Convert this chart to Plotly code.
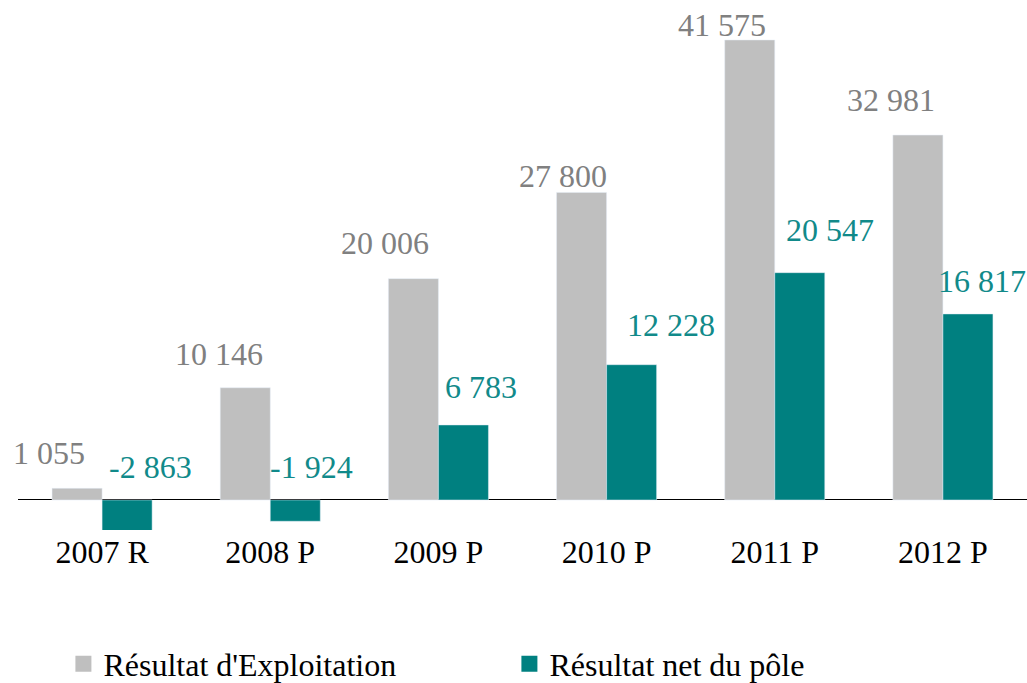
import plotly.graph_objects as go

categories = ["2007 R", "2008 P", "2009 P", "2010 P", "2011 P", "2012 P"]
resultat_exploitation = [1055, 10146, 20006, 27800, 41575, 32981]
resultat_net = [-2863, -1924, 6783, 12228, 20547, 16817]
labels_exploitation = ["1 055", "10 146", "20 006", "27 800", "41 575", "32 981"]
labels_net = ["-2 863", "-1 924", "6 783", "12 228", "20 547", "16 817"]

# label placement styles (pixel offsets from bar centre / top)
expl_dx = [-28, -26, -28, -19, -28, -27]
expl_dy = [35, 34, 36, 16, 15, 35]
net_dx = [23, 16, 18, 39, 30, 14]
net_dy = [33, 33, 38, 40, 43, 33]

GRAY = "#BFBFBF"
TEAL = "#008080"
GRAY_TXT = "#808080"
TEAL_TXT = "#118A8A"
FONT = "'Liberation Serif', 'Times New Roman', Times, 'DejaVu Serif', serif"
FS = 32

fig = go.Figure()
fig.add_trace(go.Bar(x=categories, y=resultat_exploitation, marker_color=GRAY,
                     showlegend=False, name="Résultat d'Exploitation", cliponaxis=False))
fig.add_trace(go.Bar(x=categories, y=resultat_net, marker_color=TEAL,
                     showlegend=False, name="Résultat net du pôle", cliponaxis=False))
# legend entries with larger square swatches
fig.add_trace(go.Scatter(x=[categories[0]], y=[None], mode="markers", name="Résultat d'Exploitation",
                         marker=dict(symbol="square", size=22, color=GRAY)))
fig.add_trace(go.Scatter(x=[categories[0]], y=[None], mode="markers", name="Résultat net du pôle",
                         marker=dict(symbol="square", size=22, color=TEAL)))

annotations = []
half = 25
for i, c in enumerate(categories):
    v = resultat_exploitation[i]
    annotations.append(dict(x=c, y=max(v, 0), xref="x", yref="y", text=labels_exploitation[i],
                            showarrow=False, xanchor="center", yanchor="middle",
                            xshift=-half + expl_dx[i], yshift=expl_dy[i],
                            font=dict(family=FONT, size=FS, color=GRAY_TXT)))
    v = resultat_net[i]
    annotations.append(dict(x=c, y=max(v, 0), xref="x", yref="y", text=labels_net[i],
                            showarrow=False, xanchor="center", yanchor="middle",
                            xshift=half + net_dx[i], yshift=net_dy[i],
                            font=dict(family=FONT, size=FS, color=TEAL_TXT)))

fig.update_layout(
    width=1027, height=683,
    margin=dict(l=18, r=0, t=10, b=153, autoexpand=False),
    plot_bgcolor="white", paper_bgcolor="white",
    barmode="group", bargap=0.405, bargroupgap=0,
    font=dict(family=FONT, size=FS, color="black"),
    annotations=annotations,
    legend=dict(orientation="h", x=0.045, xanchor="left", y=-0.2577, yanchor="middle",
                entrywidth=401, entrywidthmode="pixels",
                font=dict(family=FONT, size=FS, color="black"),
                itemsizing="trace"),
    xaxis=dict(range=[-0.5, 5.5], autorange=False, showline=False, ticks="", showgrid=False,
               tickfont=dict(family=FONT, size=FS, color="black")),
    yaxis=dict(range=[-2712, 44287], autorange=False, showgrid=False, showticklabels=False, ticks="",
               zeroline=True, zerolinecolor="black", zerolinewidth=1, showline=False),
)

fig.write_html("out.html", config={"displayModeBar": False},
               post_script="document.body.style.margin='0';document.body.style.overflow='hidden';")
